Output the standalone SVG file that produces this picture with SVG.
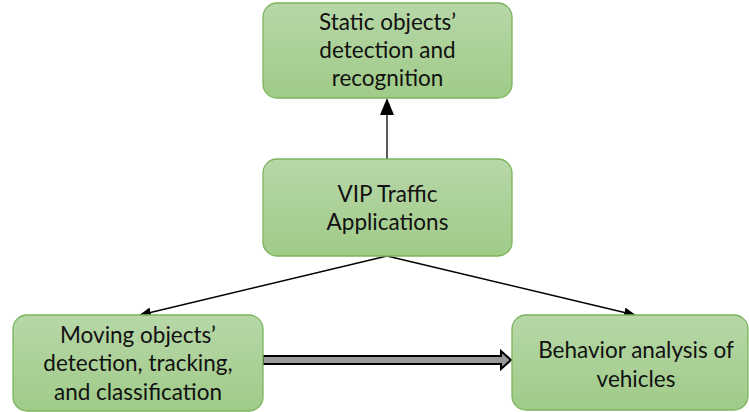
<svg xmlns="http://www.w3.org/2000/svg" width="749" height="412" viewBox="0 0 749 412">
<defs>
<linearGradient id="g" x1="0" y1="0" x2="0" y2="1">
<stop offset="0" stop-color="#b7d7a8"/>
<stop offset="1" stop-color="#a0cb88"/>
</linearGradient>
<marker id="ah" markerWidth="12" markerHeight="10" refX="11" refY="5" orient="auto" markerUnits="userSpaceOnUse" viewBox="0 0 12 10">
<path d="M0,0 L12,5 L0,10 Z" fill="#000"/>
</marker>
</defs>
<style>
.box{fill:url(#g);stroke:#7ab55c;stroke-width:1.3}
.t{font-family:Lato,"Open Sans","Liberation Sans",sans-serif;font-size:22.5px;fill:#111;text-anchor:middle}
.ln{stroke:#000;stroke-width:1.3;fill:none}
</style>
<g id="connectors">
<line class="ln" x1="387" y1="159" x2="387" y2="110" stroke-width="1.5"/>
<path d="M380,115 L387,98 L394,115 Z" fill="#000"/>
<line class="ln" x1="387" y1="256" x2="140" y2="315" marker-end="url(#ah)"/>
<line class="ln" x1="387" y1="256" x2="635" y2="315" marker-end="url(#ah)"/>
<path d="M263,356 L501,356 L501,351 L511,360 L501,369 L501,364 L263,364 Z" fill="#999" stroke="#000" stroke-width="2"/>
</g>
<g id="static">
<rect class="box" x="263" y="3" width="249" height="95" rx="14"/>
<text class="t" x="387.5" y="30">Static objects’</text>
<text class="t" x="387.5" y="58">detection and</text>
<text class="t" x="387.5" y="86">recognition</text>
</g>
<g id="vip">
<rect class="box" x="263" y="159" width="249" height="97" rx="14"/>
<text class="t" x="387.5" y="202">VIP Traffic</text>
<text class="t" x="387.5" y="230">Applications</text>
</g>
<g id="moving">
<rect class="box" x="13" y="315" width="250" height="96" rx="14"/>
<text class="t" x="138" y="343">Moving objects’</text>
<text class="t" x="138" y="371">detection, tracking,</text>
<text class="t" x="138" y="400">and classification</text>
</g>
<g id="behavior">
<rect class="box" x="512" y="315" width="236" height="95" rx="14"/>
<text class="t" x="636" y="358">Behavior analysis of</text>
<text class="t" x="636" y="387">vehicles</text>
</g>
</svg>
